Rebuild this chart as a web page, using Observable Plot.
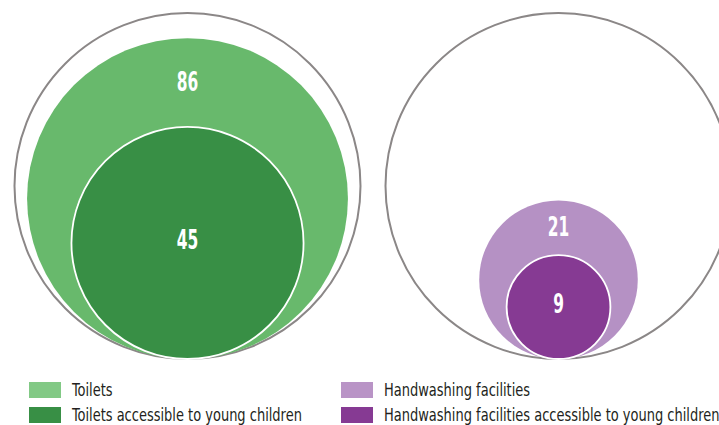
<!DOCTYPE html>
<html>
<head>
<meta charset="utf-8">
<script src="https://cdn.jsdelivr.net/npm/d3@7"></script>
<script src="https://cdn.jsdelivr.net/npm/@observablehq/plot@0.6"></script>
<style>
  html, body { margin: 0; padding: 0; background: #fff; }
  #wrap { position: relative; width: 719px; height: 425px; overflow: hidden; }
  #chart { position: absolute; left: 0; top: 0; }
  .legend { position: absolute; top: 0; left: 0; width: 719px; height: 425px; pointer-events: none;
    font-family: "DejaVu Sans Condensed", "DejaVu Sans", sans-serif; font-size: 17px; color: #231f20; }
  .item { position: absolute; white-space: nowrap; display: flex; align-items: center; height: 16px; line-height: 16px; }
  .sw { width: 32px; height: 16px; margin-right: 11px; flex: none; }
  .tx { display: inline-block; transform: scaleX(0.85); transform-origin: 0 50%; }
</style>
</head>
<body>
<div id="wrap">
  <div id="chart"></div>
  <div class="legend" id="legend"></div>
</div>
<script>
// ---- data ----
const groups = ["Toilets", "Handwashing facilities"];
const totalValues = [100, 100];
const facilityValues = [86, 21];
const accessibleValues = [45, 9];
const facilityLabels = ["Toilets", "Handwashing facilities"];
const accessibleLabels = ["Toilets accessible to young children", "Handwashing facilities accessible to young children"];

// ---- colours ----
const facilityFill = ["#68b96c", "#b591c4"];
const accessibleFill = ["#388f45", "#863a93"];
const legendFacilityFill = ["#82c985", "#b994c6"];
const legendAccessibleFill = ["#388f45", "#863a93"];

// rows: y = circle centre expressed in "outer radius" units above the common bottom tangent
const unit = v => Math.sqrt(v / 100);
const outer = groups.map((g, i) => ({group: g, value: totalValues[i], cy: unit(totalValues[i])}));
const facility = groups.map((g, i) => ({group: g, value: facilityValues[i], cy: unit(facilityValues[i]), fill: facilityFill[i]}));
const accessible = groups.map((g, i) => ({group: g, value: accessibleValues[i], cy: unit(accessibleValues[i]), fill: accessibleFill[i]}));
// label in the ring: halfway between the tops of the two nested circles
const facilityLabelRows = groups.map((g, i) => ({group: g, value: facilityValues[i],
  ly: unit(facilityValues[i]) + unit(accessibleValues[i])}));

const R = 173;      // outer radius in px
const bottom = 358.5;
const numFont = "'DejaVu Sans Condensed', 'DejaVu Sans', sans-serif";

const chart = Plot.plot({
  width: 719,
  height: 372,
  margin: 0,
  x: {type: "point", domain: groups, range: [187, 558], padding: 0, axis: null},
  y: {type: "linear", domain: [0, 2], range: [bottom, bottom - 2 * R], axis: null},
  r: {type: "sqrt", domain: [0, 100], range: [0, R]},
  marks: [
    Plot.dot(outer, {x: "group", y: "cy", r: "value", fill: "white", stroke: "#8b8787", strokeWidth: 2}),
    Plot.dot(facility, {x: "group", y: "cy", r: "value", fill: d => d.fill, stroke: "none"}),
    Plot.dot(accessible, {x: "group", y: "cy", r: "value", fill: d => d.fill, stroke: "white", strokeWidth: 1.8}),
    Plot.text(facilityLabelRows, {x: "group", y: "ly", text: d => String(d.value), dy: 0,
      fill: "white", fontSize: 26, fontWeight: "bold", fontFamily: numFont, className: "num"}),
    Plot.text(accessible, {x: "group", y: "cy", text: d => String(d.value), dy: -2,
      fill: "white", fontSize: 26, fontWeight: "bold", fontFamily: numFont, className: "num"})
  ]
});
document.getElementById("chart").appendChild(chart);

// condense the number labels (the reference uses a condensed face)
chart.querySelectorAll("g.num text").forEach(t => {
  const len = t.getComputedTextLength();
  t.setAttribute("textLength", (len * 0.66).toFixed(1));
  t.setAttribute("lengthAdjust", "spacingAndGlyphs");
});

// ---- legend (two columns) ----
const legend = document.getElementById("legend");
const colLeft = [29, 341];
const rowTop = [382, 407];
groups.forEach((g, i) => {
  [[facilityLabels[i], legendFacilityFill[i]], [accessibleLabels[i], legendAccessibleFill[i]]].forEach(([label, color], j) => {
    const item = document.createElement("div");
    item.className = "item";
    item.style.left = colLeft[i] + "px";
    item.style.top = rowTop[j] + "px";
    const sw = document.createElement("span");
    sw.className = "sw";
    sw.style.background = color;
    const tx = document.createElement("span");
    tx.className = "tx";
    tx.textContent = label;
    item.appendChild(sw);
    item.appendChild(tx);
    legend.appendChild(item);
  });
});
</script>
</body>
</html>
